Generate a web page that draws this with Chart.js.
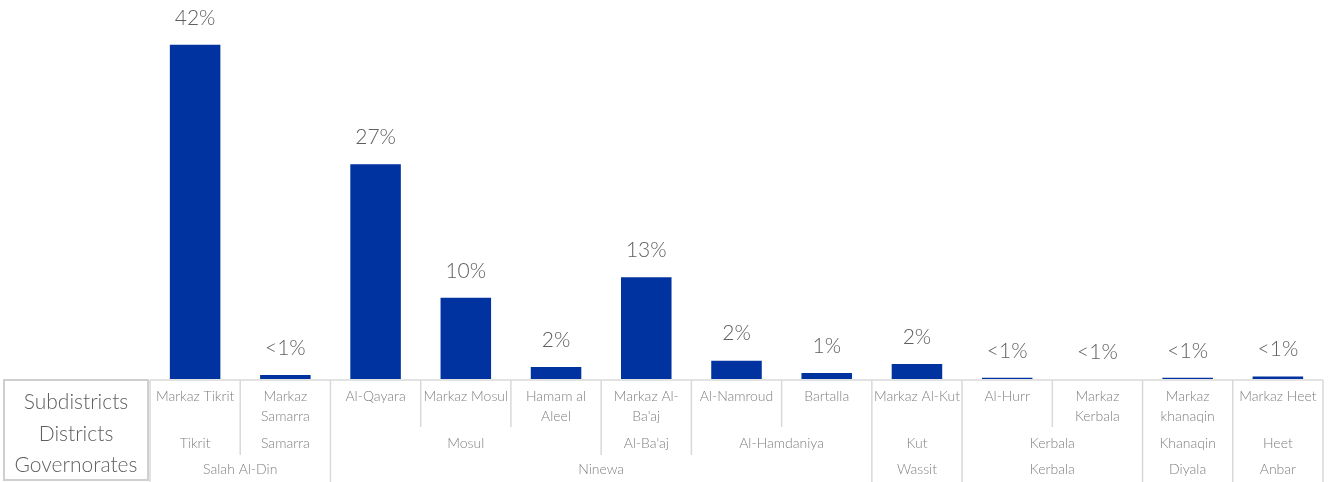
<!DOCTYPE html>
<html>
<head>
<meta charset="utf-8">
<script src="https://cdn.jsdelivr.net/npm/chart.js@4"></script>
<style>
  body { margin: 0; background: #fff; }
  #wrap { width: 1329px; height: 482px; }
</style>
</head>
<body>
<div id="wrap"><canvas id="chart" width="1329" height="482"></canvas></div>
<script>
const subdistricts = [
  ["Markaz Tikrit"], ["Markaz", "Samarra"], ["Al-Qayara"], ["Markaz Mosul"],
  ["Hamam al", "Aleel"], ["Markaz Al-", "Ba'aj"], ["Al-Namroud"], ["Bartalla"],
  ["Markaz Al-Kut"], ["Al-Hurr"], ["Markaz", "Kerbala"], ["Markaz", "khanaqin"], ["Markaz Heet"],
];
const districts = ["Tikrit", "Samarra", "Mosul", "Mosul", "Mosul", "Al-Ba'aj", "Al-Hamdaniya",
  "Al-Hamdaniya", "Kut", "Kerbala", "Kerbala", "Khanaqin", "Heet"];
const governorates = ["Salah Al-Din", "Salah Al-Din", "Ninewa", "Ninewa", "Ninewa", "Ninewa",
  "Ninewa", "Ninewa", "Wassit", "Kerbala", "Kerbala", "Diyala", "Anbar"];
const shares = [42, 0.5, 27, 10.2, 1.5, 12.8, 2.3, 0.75, 1.9, 0.15, 0.01, 0.15, 0.3];
const shareLabels = ["42%", "<1%", "27%", "10%", "2%", "13%", "2%", "1%", "2%", "<1%", "<1%", "<1%", "<1%"];
const rowTitles = ["Subdistricts", "Districts", "Governorates"];

const FONT = "Lato, 'DejaVu Sans', sans-serif";
const LINE = "#d9d9d9";

// contiguous runs of equal keys -> [start, end] index pairs
const runs = (keys) => {
  const out = [];
  keys.forEach((k, i) => {
    const last = out[out.length - 1];
    if (last && last.key === k) last.end = i;
    else out.push({ key: k, start: i, end: i });
  });
  return out;
};

const valueLabels = {
  id: "valueLabels",
  afterDatasetsDraw(chart) {
    const { ctx } = chart;
    const meta = chart.getDatasetMeta(0);
    ctx.save();
    ctx.font = "300 21px " + FONT;
    ctx.fillStyle = "#5f5f5f";
    ctx.textAlign = "center";
    ctx.textBaseline = "middle";
    meta.data.forEach((bar, i) => {
      ctx.fillText(shareLabels[i], bar.x, bar.y - 27);
    });
    ctx.restore();
  },
};

const categoryTable = {
  id: "categoryTable",
  afterDraw(chart) {
    const { ctx, chartArea } = chart;
    const xs = chart.scales.x;
    const top = chartArea.bottom + 1;
    const bottom = chart.height;
    const half = (xs.getPixelForValue(1) - xs.getPixelForValue(0)) / 2;
    const edgeL = (i) => xs.getPixelForValue(i) - half;
    const edgeR = (i) => xs.getPixelForValue(i) + half;

    ctx.save();
    // left title box
    ctx.strokeStyle = "#cfcfcf";
    ctx.lineWidth = 2;
    ctx.strokeRect(4, top, 144, bottom - top - 2);
    ctx.font = "300 21px " + FONT;
    ctx.fillStyle = "#5f5f5f";
    ctx.textAlign = "center";
    ctx.textBaseline = "middle";
    [402, 434, 465].forEach((y, i) => ctx.fillText(rowTitles[i], 76, y));

    // top rule
    ctx.strokeStyle = LINE;
    ctx.lineWidth = 1.5;
    ctx.beginPath();
    ctx.moveTo(chartArea.left, top);
    ctx.lineTo(edgeR(shares.length - 1), top);
    ctx.stroke();

    // separators: depth by level of boundary
    const vline = (x, y2) => {
      ctx.beginPath();
      ctx.moveTo(x, top);
      ctx.lineTo(x, y2);
      ctx.stroke();
    };
    vline(edgeL(0), bottom);
    for (let i = 0; i < shares.length; i++) {
      const x = edgeR(i);
      const last = i === shares.length - 1;
      if (last || governorates[i] !== governorates[i + 1]) vline(x, bottom);
      else if (districts[i] !== districts[i + 1]) vline(x, 455);
      else vline(x, 427);
    }

    ctx.font = "300 14px " + FONT;
    ctx.fillStyle = "#808080";
    subdistricts.forEach((lines, i) => {
      lines.forEach((t, j) => ctx.fillText(t, xs.getPixelForValue(i), 396 + j * 20));
    });
    runs(districts.map((d, i) => governorates[i] + "|" + d)).forEach((r) => {
      ctx.fillText(r.key.split("|")[1], (edgeL(r.start) + edgeR(r.end)) / 2, 443);
    });
    runs(governorates).forEach((r) => {
      ctx.fillText(r.key, (edgeL(r.start) + edgeR(r.end)) / 2, 469);
    });
    ctx.restore();
  },
};

new Chart(document.getElementById("chart"), {
  type: "bar",
  data: {
    labels: subdistricts,
    datasets: [{
      data: shares,
      backgroundColor: "#0033a0",
      borderWidth: 0,
      barPercentage: 0.56,
      categoryPercentage: 1,
    }],
  },
  options: {
    responsive: false,
    animation: false,
    devicePixelRatio: 1,
    layout: { padding: { left: 150, right: 6, top: 5, bottom: 103 } },
    scales: {
      x: { display: false, offset: true },
      y: { display: false, min: 0, max: 47 },
    },
    plugins: { legend: { display: false }, tooltip: { enabled: false } },
  },
  plugins: [valueLabels, categoryTable],
});
</script>
</body>
</html>
